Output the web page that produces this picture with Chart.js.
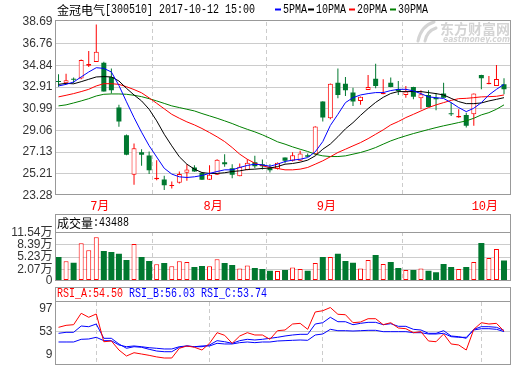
<!DOCTYPE html>
<html>
<head>
<meta charset="utf-8">
<script src="https://cdn.jsdelivr.net/npm/chart.js@4.4.1/dist/chart.umd.min.js"></script>
<style>
  html, body { margin: 0; padding: 0; background: #fff; }
  #wrap { position: relative; width: 520px; height: 365px; overflow: hidden; background: #fff; }
  #wrap canvas { position: absolute; left: 0; top: 0; }
</style>
</head>
<body>
<div id="wrap">
  <canvas id="rsi" width="520" height="365"></canvas>
  <canvas id="vol" width="520" height="365"></canvas>
  <canvas id="kline" width="520" height="365"></canvas>
</div>
<script>
// ---- quote header ----
const stockName = '金冠电气';
const stockCode = '300510';
const quoteTime = '2017-10-12 15:00';

// ---- daily candles (yuan) ----
const openP  = [33.42, 33.25, 33.60, 33.68, 34.80, 35.14, 35.08, 33.81, 31.09, 28.63,
                25.12, 27.13, 26.83, 24.72, 24.70, 24.12, 24.41, 25.30, 25.77, 25.30,
                24.68, 25.12, 26.24, 25.71, 25.00, 25.53, 26.24, 26.06, 25.77, 25.65,
                26.65, 26.36, 26.36, 26.86, 26.95, 31.62, 30.14, 33.30, 33.21, 32.42,
                31.68, 32.66, 33.66, 32.27, 33.30, 32.74, 32.21, 32.92, 31.91, 32.21,
                31.97, 32.35, 30.59, 30.20, 30.44, 30.49, 33.99, 33.15, 33.01, 33.15];
const highP  = [34.04, 34.10, 33.75, 35.35, 36.11, 38.47, 35.17, 34.57, 31.33, 28.70,
                27.90, 27.39, 27.19, 26.41, 25.03, 24.53, 25.41, 26.06, 25.97, 25.32,
                25.97, 26.50, 26.95, 26.06, 26.12, 26.50, 26.80, 26.48, 26.06, 26.20,
                26.65, 27.13, 27.25, 27.01, 29.42, 31.65, 33.23, 34.57, 33.81, 32.86,
                32.08, 33.99, 34.99, 33.60, 33.75, 33.45, 33.01, 32.95, 32.62, 32.62,
                32.39, 33.30, 31.53, 30.94, 30.64, 32.35, 34.01, 33.90, 34.87, 33.69];
const lowP   = [32.95, 33.15, 33.24, 33.60, 34.69, 35.14, 32.51, 32.33, 29.38, 26.85,
                24.24, 25.92, 25.18, 24.64, 23.76, 23.91, 24.35, 24.59, 25.38, 24.66,
                24.68, 25.10, 25.83, 24.82, 25.00, 25.53, 25.71, 25.59, 25.32, 25.60,
                26.15, 26.30, 26.36, 26.70, 26.88, 29.85, 30.05, 31.91, 32.12, 31.24,
                31.33, 32.66, 32.80, 32.27, 32.90, 32.21, 31.97, 31.82, 30.94, 31.15,
                30.85, 31.97, 30.35, 30.18, 29.31, 29.47, 32.71, 33.15, 33.01, 32.27];
const closeP = [33.36, 33.51, 33.55, 35.32, 34.95, 36.05, 32.51, 32.62, 29.85, 26.89,
                27.48, 26.89, 25.53, 24.85, 24.20, 24.18, 25.18, 25.59, 25.41, 24.68,
                25.12, 26.45, 26.06, 25.12, 25.83, 26.18, 25.88, 25.88, 25.53, 26.18,
                26.36, 26.86, 27.01, 26.72, 29.40, 30.20, 33.21, 32.21, 32.62, 31.62,
                32.06, 32.92, 33.01, 32.39, 32.92, 32.57, 32.51, 32.04, 32.27, 31.15,
                31.82, 31.97, 30.49, 30.35, 29.47, 32.33, 33.69, 33.30, 33.63, 32.71];

// ---- moving averages ----
const ma5  = [33.01, 33.15, 33.36, 33.81, 34.25, 34.63, 34.57, 34.25, 33.05, 31.60,
              30.20, 28.90, 27.70, 26.70, 25.70, 25.18, 24.94, 24.88, 24.94, 25.06,
              25.24, 25.41, 25.56, 25.56, 25.77, 25.95, 26.06, 26.00, 25.88, 26.06,
              26.30, 26.42, 26.50, 26.65, 27.16, 28.07, 29.50, 30.49, 31.53, 31.97,
              32.21, 32.33, 32.42, 32.42, 32.60, 32.71, 32.71, 32.57, 32.33, 32.04,
              31.97, 31.90, 31.53, 31.09, 30.73, 31.03, 31.53, 32.21, 32.71, 33.15];
const ma10 = [33.15, 33.24, 33.20, 33.39, 33.60, 33.81, 33.84, 33.81, 33.45, 32.80,
              32.21, 31.68, 30.94, 29.91, 28.72, 27.69, 26.72, 26.06, 25.62, 25.32,
              25.24, 25.24, 25.30, 25.41, 25.47, 25.59, 25.62, 25.68, 25.72, 25.85,
              26.06, 26.12, 26.24, 26.42, 26.80, 27.39, 27.85, 28.50, 29.20, 29.75,
              30.40, 31.00, 31.55, 32.00, 32.34, 32.51, 32.51, 32.51, 32.51, 32.42,
              32.33, 32.21, 31.91, 31.62, 31.44, 31.44, 31.50, 31.68, 31.82, 31.97];
const ma20 = [32.04, 32.18, 32.33, 32.51, 32.71, 33.01, 33.21, 33.21, 33.15, 32.94,
              32.69, 32.40, 31.95, 31.47, 30.98, 30.49, 30.14, 29.82, 29.55, 29.23,
              28.87, 28.49, 28.07, 27.54, 26.95, 26.50, 26.15, 25.92, 25.77, 25.68,
              25.56, 25.56, 25.62, 25.77, 26.06, 26.36, 26.72, 27.10, 27.39, 27.69,
              27.98, 28.33, 28.72, 29.11, 29.55, 29.85, 30.20, 30.49, 30.79, 31.09,
              31.33, 31.53, 31.73, 31.88, 31.91, 31.97, 32.04, 32.06, 32.09, 32.21];
const ma30 = [31.24, 31.33, 31.50, 31.68, 31.88, 32.12, 32.27, 32.30, 32.30, 32.27,
              32.18, 32.06, 31.88, 31.68, 31.46, 31.24, 31.09, 30.94, 30.79, 30.56,
              30.35, 30.14, 29.91, 29.67, 29.40, 29.16, 28.93, 28.67, 28.37, 28.05,
              27.84, 27.60, 27.39, 27.19, 26.95, 26.80, 26.74, 26.74, 26.80, 26.95,
              27.10, 27.30, 27.54, 27.84, 28.13, 28.37, 28.58, 28.78, 28.96, 29.14,
              29.31, 29.47, 29.61, 29.76, 29.91, 30.14, 30.44, 30.64, 30.94, 31.33];

// ---- volume (万手) ----
const volume = [5.23, 4.13, 3.77, 8.74, 6.95, 10.28, 6.77, 6.51, 6.08, 4.46,
                8.56, 5.23, 4.21, 3.36, 3.69, 2.85, 4.13, 3.95, 2.67, 2.92,
                2.85, 4.64, 3.69, 3.18, 2.33, 3.10, 2.41, 2.15, 1.72, 1.64,
                1.90, 2.59, 2.15, 1.72, 3.69, 5.23, 5.23, 6.08, 4.21, 3.77,
                2.33, 4.46, 5.74, 3.44, 3.95, 2.41, 1.90, 1.90, 2.33, 1.72,
                1.38, 3.44, 2.67, 2.15, 2.67, 3.95, 8.82, 4.97, 7.28, 4.3488];

// ---- RSI ----
const rsiA = [61.8, 65.6, 66.8, 88.5, 80.9, 87.2, 34.4, 35.8, 18.6, 7.2,
              13.5, 11.0, 8.5, 5.5, 3.4, 3.4, 21.9, 26.3, 23.8, 18.6,
              31.4, 51.6, 46.6, 31.4, 45.3, 51.6, 47.2, 47.2, 39.0, 55.4,
              56.7, 68.1, 69.4, 58.0, 91.0, 93.4, 99.5, 86.6, 85.8, 70.6,
              71.9, 78.2, 78.2, 66.8, 70.6, 60.5, 59.2, 51.6, 53.5, 35.8,
              34.4, 49.1, 30.1, 28.2, 18.6, 58.0, 70.6, 68.1, 69.4, 54.50];
const rsiB = [50.4, 52.3, 52.3, 64.3, 63.0, 68.1, 40.9, 40.9, 30.1, 21.9,
              24.9, 23.8, 20.0, 16.7, 15.4, 15.4, 23.8, 26.3, 24.9, 24.9,
              28.2, 36.4, 34.4, 31.4, 36.4, 39.0, 37.7, 39.0, 40.9, 42.8,
              45.3, 47.2, 48.5, 48.5, 68.1, 70.6, 80.9, 72.5, 72.5, 66.8,
              69.4, 71.3, 71.3, 66.8, 68.7, 63.7, 63.7, 58.0, 56.7, 50.4,
              50.4, 55.4, 45.3, 44.0, 40.9, 58.0, 63.0, 63.0, 61.8, 56.03];
const rsiC = [33.9, 33.9, 33.9, 39.0, 39.6, 42.8, 36.4, 36.4, 28.2, 24.9,
              26.3, 24.9, 23.0, 21.9, 20.6, 20.6, 24.9, 26.3, 24.9, 26.3,
              26.3, 31.4, 30.1, 30.1, 32.6, 33.9, 32.6, 33.9, 33.9, 35.8,
              36.4, 37.1, 37.7, 37.1, 47.2, 49.1, 58.0, 55.4, 55.4, 54.8,
              55.4, 56.1, 56.1, 53.5, 53.5, 53.5, 53.5, 51.6, 51.6, 49.1,
              49.1, 50.4, 44.0, 42.8, 42.8, 56.7, 59.2, 59.2, 58.0, 53.74];

// ---- axes ----
const priceTicks  = [23.28, 25.21, 27.13, 29.06, 30.99, 32.91, 34.84, 36.76, 38.69];
const volumeTicks = [2.07, 5.23, 8.39, 11.54];
const rsiTicks    = [9, 53, 97];
const monthStarts = [5, 20, 35, 56];
const monthLabels = ['7月', '8月', '9月', '10月'];
const maLabels    = ['5PMA', '10PMA', '20PMA', '30PMA'];

// ---- styling ----
const UP = '#ff0000';
const DOWN = '#00782f';
const GRID = '#cccccc';
const FRAME = '#999999';
const maColors = ['#0000ff', '#000000', '#ff0000', '#008000'];
const VOL_MIN = -0.75;
const X_MIN = -0.4, X_MAX = 59.86;

Chart.defaults.font.family = '"Liberation Sans","Noto Sans CJK SC",sans-serif';
Chart.defaults.font.size = 12;
Chart.defaults.color = '#333';
Chart.defaults.animation = false;
Chart.defaults.events = [];
Chart.defaults.plugins.legend.display = false;
Chart.defaults.plugins.tooltip.enabled = false;

const idx = closeP.map((_, i) => i);
const isUp = i => closeP[i] >= openP[i];
const pts = arr => arr.map((v, i) => ({ x: i, y: v }));
const last = a => a[a.length - 1];

// Text in 12px cells: half-width glyphs take 6px, CJK glyphs 12px.
function drawCellText(ctx, str, x, y, color) {
  ctx.save();
  ctx.fillStyle = color;
  ctx.textBaseline = 'middle';
  ctx.textAlign = 'left';
  let cx = x;
  for (const ch of str) {
    if (ch.charCodeAt(0) > 0x2e80) {
      ctx.font = '12px "Noto Sans CJK SC"';
      ctx.fillText(ch, cx, y + 0.5);
      cx += 12;
    } else {
      ctx.save();
      ctx.font = '12px "Liberation Mono"';
      ctx.translate(cx, y);
      ctx.scale(6 / 7.2, 1);
      ctx.fillText(ch, 0, 0);
      ctx.restore();
      cx += 6;
    }
  }
  ctx.restore();
}

function fitText(ctx, str, x, y, w) {
  const m = ctx.measureText(str).width;
  ctx.save();
  ctx.translate(x, y);
  ctx.scale(w / m, 1);
  ctx.fillText(str, 0, 0);
  ctx.restore();
}

function drawWatermark(ctx) {
  ctx.save();
  ctx.fillStyle = '#d4d4d4';
  ctx.strokeStyle = '#d4d4d4';
  ctx.textBaseline = 'middle';
  ctx.font = 'bold 14px "Noto Sans CJK SC"';
  fitText(ctx, '东方财富网', 440, 29, 70);
  ctx.font = 'bold italic 9px "DejaVu Sans"';
  fitText(ctx, 'eastmoney.com', 443, 40, 67);
  ctx.lineWidth = 3;
  ctx.lineCap = 'round';
  ctx.beginPath(); ctx.moveTo(418, 41); ctx.quadraticCurveTo(421, 26, 434, 22); ctx.stroke();
  ctx.beginPath(); ctx.moveTo(425, 41); ctx.quadraticCurveTo(427, 31, 436, 28); ctx.stroke();
  ctx.restore();
}

const decor = {
  id: 'decor',
  beforeDatasetsDraw(chart, args, opts) {
    if (opts.watermark) drawWatermark(chart.ctx);
  },
  afterDraw(chart, args, opts) {
    const ctx = chart.ctx;
    const a = chart.chartArea;
    ctx.save();
    ctx.strokeStyle = FRAME;
    ctx.lineWidth = 1;
    ctx.strokeRect(a.left, opts.top, a.right - a.left, opts.bottom - opts.top);
    if (opts.sep) {
      ctx.beginPath();
      ctx.moveTo(a.left, opts.sep);
      ctx.lineTo(a.right, opts.sep);
      ctx.stroke();
    }
    ctx.restore();
    (opts.texts || []).forEach(t => drawCellText(ctx, t.text, t.x, t.y, t.color));
    (opts.keys || []).forEach(k => {
      ctx.save();
      ctx.fillStyle = k.color;
      ctx.fillRect(k.x - 8, k.y - 1, 6, 2);
      ctx.restore();
      drawCellText(ctx, k.text, k.x, k.y, '#000');
    });
  }
};

function yScale(min, max, ticks, fmt, gridOn) {
  return {
    type: 'linear', position: 'left', min, max,
    afterBuildTicks: s => { s.ticks = ticks.map(v => ({ value: v })); },
    afterFit: s => { s.width = 55.5; s.paddingTop = 0; s.paddingBottom = 0; },
    ticks: { padding: 3, autoSkip: false, color: '#333', font: { size: 12 }, callback: fmt },
    grid: {
      drawTicks: false, lineWidth: 1,
      color: c => (gridOn(c.index) ? GRID : 'rgba(0,0,0,0)')
    },
    border: { display: false }
  };
}

function xScale(showLabels, height) {
  return {
    type: 'linear', position: 'bottom', min: X_MIN, max: X_MAX, offset: false,
    afterBuildTicks: s => { s.ticks = monthStarts.map(v => ({ value: v })); },
    afterFit: s => { s.height = height; s.paddingLeft = 0; s.paddingRight = 0; },
    ticks: {
      display: showLabels, autoSkip: false, maxRotation: 0, padding: 4, labelOffset: 3.5,
      color: '#ff0000',
      font: { family: '"Liberation Mono","Noto Sans CJK SC",monospace', size: 12 },
      callback: (v, i) => monthLabels[i]
    },
    grid: { drawTicks: false, color: GRID, lineWidth: 1 },
    border: { display: false, dash: [4, 3] }
  };
}

const lineStyle = { type: 'line', borderWidth: 1, pointRadius: 0, tension: 0, fill: false, order: 0 };

// ---- price panel ----
new Chart(document.getElementById('kline'), {
  type: 'bar',
  data: {
    datasets: [
      { ...lineStyle, label: maLabels[0], data: pts(ma5),  borderColor: maColors[0] },
      { ...lineStyle, label: maLabels[1], data: pts(ma10), borderColor: maColors[1] },
      { ...lineStyle, label: maLabels[2], data: pts(ma20), borderColor: maColors[2] },
      { ...lineStyle, label: maLabels[3], data: pts(ma30), borderColor: maColors[3] },
      {
        type: 'bar', label: 'body', order: 1,
        data: idx.map(i => ({ x: i, y: [openP[i], closeP[i]] })),
        backgroundColor: c => (isUp(c.dataIndex) ? '#ffffff' : DOWN),
        borderColor: c => (isUp(c.dataIndex) ? UP : DOWN),
        borderWidth: c => (isUp(c.dataIndex) ? 1 : 0),
        borderSkipped: false, barThickness: 5, grouped: false, minBarLength: 1, inflateAmount: 0
      },
      {
        type: 'bar', label: 'shadow', order: 2,
        data: idx.map(i => ({ x: i, y: [lowP[i], highP[i]] })),
        backgroundColor: c => (isUp(c.dataIndex) ? UP : DOWN),
        borderWidth: 0, barThickness: 1, grouped: false, inflateAmount: 0
      }
    ]
  },
  options: {
    responsive: false,
    layout: { padding: { left: 0, right: 9.5, top: 22, bottom: 150.5 } },
    scales: {
      x: xScale(true, 19),
      y: yScale(priceTicks[0], last(priceTicks), priceTicks, v => v.toFixed(2),
                i => i > 0 && i < priceTicks.length - 1)
    },
    plugins: {
      decor: {
        top: 20.5, bottom: 194.5, watermark: true,
        texts: [{ text: `${stockName}[${stockCode}] ${quoteTime}`, x: 57, y: 9.5, color: '#000' }],
        keys: [
          { text: maLabels[0], x: 283, y: 9.5, color: maColors[0] },
          { text: maLabels[1], x: 316, y: 9.5, color: maColors[1] },
          { text: maLabels[2], x: 357, y: 9.5, color: maColors[2] },
          { text: maLabels[3], x: 398, y: 9.5, color: maColors[3] }
        ]
      }
    }
  },
  plugins: [decor]
});

// ---- volume panel ----
const volTicks = [VOL_MIN, ...volumeTicks];
new Chart(document.getElementById('vol'), {
  type: 'bar',
  data: {
    datasets: [
      {
        label: 'up', data: idx.map(i => ({ x: i, y: isUp(i) ? volume[i] : null })),
        backgroundColor: '#ffffff', borderColor: UP, borderWidth: 1, borderSkipped: false,
        barThickness: 5, grouped: false, base: VOL_MIN, inflateAmount: 0
      },
      {
        label: 'down', data: idx.map(i => ({ x: i, y: isUp(i) ? null : volume[i] })),
        backgroundColor: DOWN, borderWidth: 0,
        barThickness: 6, grouped: false, base: VOL_MIN, inflateAmount: 0
      }
    ]
  },
  options: {
    responsive: false,
    layout: { padding: { left: 0, right: 9.5, top: 232, bottom: 84.5 } },
    scales: {
      x: xScale(false, 0),
      y: yScale(VOL_MIN, 11.6, volTicks, v => (v <= VOL_MIN ? '0' : v.toFixed(2) + '万'),
                i => i > 0 && i < volTicks.length - 1)
    },
    plugins: {
      decor: {
        top: 214.5, sep: 232.5, bottom: 280.5,
        texts: [{ text: '成交量:' + Math.round(last(volume) * 10000), x: 57, y: 223, color: '#000' }]
      }
    }
  },
  plugins: [decor]
});

// ---- RSI panel ----
new Chart(document.getElementById('rsi'), {
  type: 'line',
  data: {
    datasets: [
      { ...lineStyle, label: 'RSI_A', data: pts(rsiA), borderColor: '#ff0000' },
      { ...lineStyle, label: 'RSI_B', data: pts(rsiB), borderColor: '#0000ff' },
      { ...lineStyle, label: 'RSI_C', data: pts(rsiC), borderColor: '#0000ff' }
    ]
  },
  options: {
    responsive: false,
    layout: { padding: { left: 0, right: 9.5, top: 302, bottom: 1 } },
    scales: {
      x: xScale(false, 0),
      y: yScale(-8, 110, rsiTicks, v => String(v), i => rsiTicks[i] === 53)
    },
    plugins: {
      decor: {
        top: 287.5, sep: 301.5, bottom: 364.5,
        texts: [
          { text: 'RSI_A:' + last(rsiA).toFixed(2), x: 57,  y: 294, color: '#ff0000' },
          { text: 'RSI_B:' + last(rsiB).toFixed(2), x: 129, y: 294, color: '#0000ff' },
          { text: 'RSI_C:' + last(rsiC).toFixed(2), x: 201, y: 294, color: '#0000ff' }
        ]
      }
    }
  },
  plugins: [decor]
});
</script>
</body>
</html>
